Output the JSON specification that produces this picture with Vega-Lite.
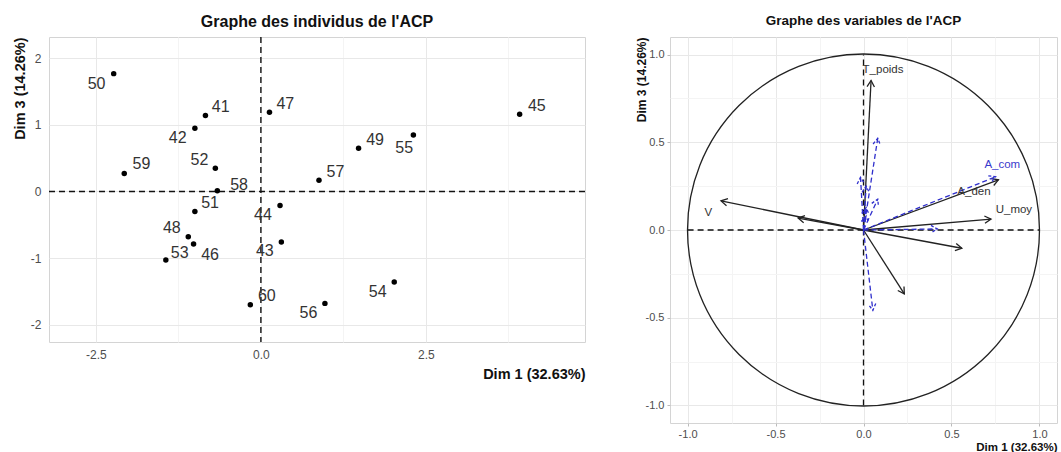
{
  "$schema": "https://vega.github.io/schema/vega-lite/v6.json",
  "padding": {"left": 11, "top": 13, "right": 1, "bottom": 0},
  "spacing": 47,
  "background": "white",
  "config": {
    "font": "Liberation Sans",
    "view": {"stroke": "#d4d4d4", "strokeWidth": 1},
    "axis": {
      "domain": false,
      "ticks": false,
      "labelColor": "#4d4d4d",
      "labelFont": "Liberation Sans",
      "titleFont": "Liberation Sans",
      "titleFontWeight": "bold",
      "titleColor": "#111111"
    },
    "title": {"font": "Liberation Sans", "fontWeight": "bold", "color": "#111111", "anchor": "middle"}
  },
  "hconcat": [
    {
      "width": 536,
      "height": 305,
      "title": {"text": "Graphe des individus de l'ACP", "fontSize": 16, "offset": 6},
      "layer": [
        {
          "data": {"values": [{"v": 0}]},
          "mark": {"type": "rule", "color": "#111111", "strokeDash": [6, 4], "strokeWidth": 1.4},
          "encoding": {"x": {"field": "v", "type": "quantitative"}}
        },
        {
          "data": {"values": [{"v": 0}]},
          "mark": {"type": "rule", "color": "#111111", "strokeDash": [6, 4], "strokeWidth": 1.4},
          "encoding": {"y": {"field": "v", "type": "quantitative"}}
        },
        {
          "data": {"name": "ind"},
          "mark": {"type": "point", "filled": true, "color": "#000000", "size": 30, "opacity": 1},
          "encoding": {
            "x": {
              "field": "x", "type": "quantitative",
              "scale": {"domain": [-3.21, 4.91], "nice": false, "zero": false},
              "axis": {
                "title": "Dim 1 (32.63%)", "titleAnchor": "end", "titleFontSize": 14.5, "titlePadding": 7,
                "labelFontSize": 12, "labelPadding": 7,
                "values": [-2.5, -1.25, 0, 1.25, 2.5, 3.75],
                "labelExpr": "abs(round(datum.value/1.25)) % 2 == 1 ? '' : replace(format(datum.value, '.1f'), '\u2212', '-')",
                "gridColor": {"condition": {"test": "abs(round(datum.value/1.25)) % 2 == 1", "value": "#f4f4f4"}, "value": "#e8e8e8"}
              }
            },
            "y": {
              "field": "y", "type": "quantitative",
              "scale": {"domain": [-2.26, 2.32], "nice": false, "zero": false},
              "axis": {
                "title": "Dim 3 (14.26%)", "titleAnchor": "end", "titleFontSize": 14.5, "titlePadding": 3,
                "labelFontSize": 12, "labelPadding": 8,
                "values": [-2, -1.5, -1, -0.5, 0, 0.5, 1, 1.5, 2],
                "labelExpr": "abs(round(datum.value*2)) % 2 == 1 ? '' : replace(format(datum.value, 'd'), '\u2212', '-')",
                "gridColor": {"condition": {"test": "abs(round(datum.value*2)) % 2 == 1", "value": "#f4f4f4"}, "value": "#e8e8e8"}
              }
            }
          }
        },
        {
          "data": {"name": "ind"},
          "mark": {"type": "text", "fontSize": 16, "color": "#333333", "align": "center", "baseline": "middle"},
          "encoding": {
            "x": {"field": "lx", "type": "quantitative"},
            "y": {"field": "ly", "type": "quantitative"},
            "text": {"field": "id", "type": "nominal"}
          }
        }
      ]
    },
    {
      "width": 387,
      "height": 386,
      "title": {"text": "Graphe des variables de l'ACP", "fontSize": 13.5, "offset": 10},
      "layer": [
        {
          "data": {"values": [{"x": -1, "x2": 1, "y": 0, "y2": 0}, {"x": 0, "x2": 0, "y": -1, "y2": 1}]},
          "mark": {"type": "rule", "color": "#111111", "strokeDash": [6, 4], "strokeWidth": 1.3},
          "encoding": {
            "x": {
              "field": "x", "type": "quantitative",
              "scale": {"domain": [-1.1, 1.1], "nice": false, "zero": false},
              "axis": {
                "title": "Dim 1 (32.63%)", "titleAnchor": "end", "titleFontSize": 11.5, "titlePadding": 2,
                "labelFontSize": 11, "labelPadding": 2,
                "ticks": true, "tickSize": 3,
                "tickColor": {"condition": {"test": "abs(round(datum.value*4)) % 2 == 1", "value": "rgba(0,0,0,0)"}, "value": "#bbbbbb"},
                "values": [-1, -0.75, -0.5, -0.25, 0, 0.25, 0.5, 0.75, 1],
                "labelExpr": "abs(round(datum.value*4)) % 2 == 1 ? '' : replace(format(datum.value, '.1f'), '\u2212', '-')",
                "gridColor": {"condition": {"test": "abs(round(datum.value*4)) % 2 == 1", "value": "#f4f4f4"}, "value": "#e8e8e8"}
              }
            },
            "x2": {"field": "x2"},
            "y": {
              "field": "y", "type": "quantitative",
              "scale": {"domain": [-1.1, 1.1], "nice": false, "zero": false},
              "axis": {
                "title": "Dim 3 (14.26%)", "titleAnchor": "end", "titleFontSize": 12, "titlePadding": -3,
                "labelFontSize": 11, "labelPadding": 3,
                "ticks": true, "tickSize": 3,
                "tickColor": {"condition": {"test": "abs(round(datum.value*4)) % 2 == 1", "value": "rgba(0,0,0,0)"}, "value": "#bbbbbb"},
                "values": [-1, -0.75, -0.5, -0.25, 0, 0.25, 0.5, 0.75, 1],
                "labelExpr": "abs(round(datum.value*4)) % 2 == 1 ? '' : replace(format(datum.value, '.1f'), '\u2212', '-')",
                "gridColor": {"condition": {"test": "abs(round(datum.value*4)) % 2 == 1", "value": "#f4f4f4"}, "value": "#e8e8e8"}
              }
            },
            "y2": {"field": "y2"}
          }
        },
        {
          "data": {"values": [{"x": 0, "y": 0}]},
          "mark": {"type": "point", "shape": "circle", "filled": false, "size": 123900, "color": "#222222", "strokeWidth": 1.3, "opacity": 1},
          "encoding": {
            "x": {"field": "x", "type": "quantitative"},
            "y": {"field": "y", "type": "quantitative"}
          }
        },
        {
          "data": {"name": "vars"},
          "transform": [{"filter": "datum.group == 'active'"}],
          "mark": {"type": "rule", "color": "#222222", "strokeWidth": 1.3},
          "encoding": {
            "x": {"field": "x0", "type": "quantitative"},
            "y": {"field": "y0", "type": "quantitative"},
            "x2": {"field": "x"},
            "y2": {"field": "y"}
          }
        },
        {
          "data": {"name": "vars"},
          "transform": [{"filter": "datum.group == 'active'"}],
          "mark": {"type": "point", "shape": "M -0.55 0.95 L 0 0 L 0.55 0.95", "filled": false, "size": 180, "color": "#222222", "strokeWidth": 1.3, "opacity": 1, "angle": {"expr": "atan2(datum.x, datum.y) * 180 / PI"}},
          "encoding": {
            "x": {"field": "x", "type": "quantitative"},
            "y": {"field": "y", "type": "quantitative"}
          }
        },
        {
          "data": {"name": "vars"},
          "transform": [{"filter": "datum.group == 'supp'"}],
          "mark": {"type": "rule", "color": "#2f2fcc", "strokeWidth": 1.3, "strokeDash": [5, 3]},
          "encoding": {
            "x": {"field": "x0", "type": "quantitative"},
            "y": {"field": "y0", "type": "quantitative"},
            "x2": {"field": "x"},
            "y2": {"field": "y"}
          }
        },
        {
          "data": {"name": "vars"},
          "transform": [{"filter": "datum.group == 'supp'"}],
          "mark": {"type": "point", "shape": "M -0.55 0.95 L 0 0 L 0.55 0.95", "filled": false, "size": 180, "color": "#2f2fcc", "strokeWidth": 1.3, "opacity": 1, "strokeDash": [3, 2], "angle": {"expr": "atan2(datum.x, datum.y) * 180 / PI"}},
          "encoding": {
            "x": {"field": "x", "type": "quantitative"},
            "y": {"field": "y", "type": "quantitative"}
          }
        },
        {
          "data": {"name": "vars"},
          "transform": [{"filter": "datum.label != ''"}],
          "mark": {"type": "text", "fontSize": 11.5, "align": "center", "baseline": "middle"},
          "encoding": {
            "x": {"field": "lx", "type": "quantitative"},
            "y": {"field": "ly", "type": "quantitative"},
            "text": {"field": "label", "type": "nominal"},
            "color": {"field": "group", "type": "nominal", "scale": {"domain": ["active", "supp"], "range": ["#333333", "#3a3acc"]}, "legend": null}
          }
        }
      ]
    }
  ],
  "datasets": {
    "ind": [
      {"id": "41", "x": -0.84, "y": 1.14, "lx": -0.61, "ly": 1.27},
      {"id": "42", "x": -1.00, "y": 0.95, "lx": -1.26, "ly": 0.81},
      {"id": "43", "x": 0.31, "y": -0.76, "lx": 0.06, "ly": -0.90},
      {"id": "44", "x": 0.29, "y": -0.21, "lx": 0.03, "ly": -0.36},
      {"id": "45", "x": 3.92, "y": 1.16, "lx": 4.18, "ly": 1.29},
      {"id": "46", "x": -1.02, "y": -0.79, "lx": -0.77, "ly": -0.95},
      {"id": "47", "x": 0.13, "y": 1.19, "lx": 0.37, "ly": 1.32},
      {"id": "48", "x": -1.10, "y": -0.68, "lx": -1.35, "ly": -0.55},
      {"id": "49", "x": 1.48, "y": 0.65, "lx": 1.73, "ly": 0.78},
      {"id": "50", "x": -2.23, "y": 1.77, "lx": -2.49, "ly": 1.62},
      {"id": "51", "x": -1.00, "y": -0.30, "lx": -0.77, "ly": -0.18},
      {"id": "52", "x": -0.69, "y": 0.35, "lx": -0.93, "ly": 0.48},
      {"id": "53", "x": -1.44, "y": -1.03, "lx": -1.23, "ly": -0.93},
      {"id": "54", "x": 2.02, "y": -1.36, "lx": 1.77, "ly": -1.51},
      {"id": "55", "x": 2.31, "y": 0.85, "lx": 2.17, "ly": 0.65},
      {"id": "56", "x": 0.97, "y": -1.68, "lx": 0.72, "ly": -1.83},
      {"id": "57", "x": 0.88, "y": 0.17, "lx": 1.13, "ly": 0.29},
      {"id": "58", "x": -0.66, "y": 0.01, "lx": -0.33, "ly": 0.10},
      {"id": "59", "x": -2.07, "y": 0.27, "lx": -1.81, "ly": 0.41},
      {"id": "60", "x": -0.16, "y": -1.70, "lx": 0.09, "ly": -1.57}
    ],
    "vars": [
      {"name": "T_poids", "group": "active", "x0": 0, "y0": 0, "x": 0.043, "y": 0.852, "label": "T_poids", "lx": 0.111, "ly": 0.911},
      {"name": "V", "group": "active", "x0": 0, "y0": 0, "x": -0.81, "y": 0.166, "label": "V", "lx": -0.882, "ly": 0.097},
      {"name": "A_den", "group": "active", "x0": 0, "y0": 0, "x": 0.767, "y": 0.286, "label": "A_den", "lx": 0.628, "ly": 0.218},
      {"name": "U_moy", "group": "active", "x0": 0, "y0": 0, "x": 0.725, "y": 0.062, "label": "U_moy", "lx": 0.855, "ly": 0.114},
      {"name": "a5", "group": "active", "x0": 0, "y0": 0, "x": -0.372, "y": 0.068, "label": "", "lx": 0, "ly": 0},
      {"name": "a6", "group": "active", "x0": 0, "y0": 0, "x": 0.559, "y": -0.104, "label": "", "lx": 0, "ly": 0},
      {"name": "a7", "group": "active", "x0": 0, "y0": 0, "x": 0.232, "y": -0.364, "label": "", "lx": 0, "ly": 0},
      {"name": "A_com", "group": "supp", "x0": 0, "y0": 0, "x": 0.751, "y": 0.303, "label": "A_com", "lx": 0.789, "ly": 0.371},
      {"name": "s2", "group": "supp", "x0": 0, "y0": 0, "x": 0.081, "y": 0.523, "label": "", "lx": 0, "ly": 0},
      {"name": "s3", "group": "supp", "x0": 0, "y0": 0, "x": -0.017, "y": 0.30, "label": "", "lx": 0, "ly": 0},
      {"name": "s4", "group": "supp", "x0": 0, "y0": 0, "x": 0.015, "y": 0.25, "label": "", "lx": 0, "ly": 0},
      {"name": "s5", "group": "supp", "x0": 0, "y0": 0, "x": 0.081, "y": 0.176, "label": "", "lx": 0, "ly": 0},
      {"name": "s6", "group": "supp", "x0": 0, "y0": 0, "x": 0.015, "y": 0.128, "label": "", "lx": 0, "ly": 0},
      {"name": "s7", "group": "supp", "x0": 0, "y0": 0, "x": 0.015, "y": 0.08, "label": "", "lx": 0, "ly": 0},
      {"name": "s8", "group": "supp", "x0": 0, "y0": 0, "x": 0.42, "y": 0.006, "label": "", "lx": 0, "ly": 0},
      {"name": "s9", "group": "supp", "x0": 0, "y0": 0, "x": 0.053, "y": -0.458, "label": "", "lx": 0, "ly": 0}
    ]
  }
}
